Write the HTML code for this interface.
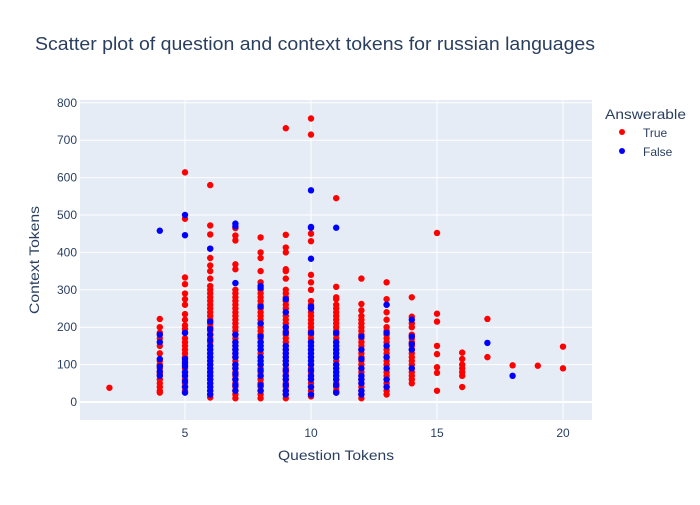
<!DOCTYPE html>
<html><head><meta charset="utf-8"><style>
body{margin:0;background:#fff;font-family:"Liberation Sans",Arial,sans-serif;}
svg text{fill:#2a3f5f;font-family:"Liberation Sans",Arial,sans-serif;}
</style></head><body>
<svg id="chart" width="700" height="500">
<rect x="0" y="0" width="700" height="500" fill="#fff"/>
<text x="35" y="50" font-size="18" textLength="560" lengthAdjust="spacingAndGlyphs">Scatter plot of question and context tokens for russian languages</text>
<rect x="80" y="100" width="512" height="320" fill="#e5ecf6"/>
<g id="grid"></g><g id="ticks"></g><g id="pts"></g>
<text x="336" y="460" font-size="14" text-anchor="middle" textLength="116" lengthAdjust="spacingAndGlyphs">Question Tokens</text>
<text transform="translate(39,260) rotate(-90)" font-size="14" text-anchor="middle" textLength="108" lengthAdjust="spacingAndGlyphs">Context Tokens</text>
<g>
<text x="605" y="119" font-size="14" textLength="81" lengthAdjust="spacingAndGlyphs">Answerable</text>
<g><circle cx="622" cy="132" r="3" fill="#ff0000"/><text x="643" y="137" font-size="12">True</text></g>
<g><circle cx="622" cy="151" r="3" fill="#0000ff"/><text x="643" y="156" font-size="12">False</text></g>
</g>
</svg>
<script>
const xTicks=[5,10,15,20];
const yTicks=[0,100,200,300,400,500,600,700,800];
const trueX=[2,4,5,6,7,8,9,10,11,12,13,14,15,16,17,18,19,20];
const trueY=[[38],
[222,200,185,170,150,130,110,100,90,80,75,60,50,40,30,25],
[614,490,333,315,290,275,260,235,220,205,195,185,170,160,150,140,130,120,110,100,90,80,70,60,50,40,30],
[580,472,448,410,385,365,350,330,310,300,290,280,270,260,250,240,230,220,210,200,190,180,170,160,150,140,130,120,110,100,90,80,70,60,50,40,30,20,12],
[465,445,432,368,355,300,290,280,270,260,250,240,230,220,210,200,190,180,170,160,150,140,130,120,110,100,90,80,70,60,50,40,30,20,10],
[440,400,385,350,320,300,290,280,270,260,250,240,230,220,210,200,190,180,170,160,150,140,130,120,110,100,90,80,70,60,50,40,30,20,10],
[732,447,413,400,355,350,330,300,290,280,270,260,250,240,230,220,210,200,190,180,170,160,150,140,130,120,110,100,90,80,70,60,50,40,30,20,10],
[758,715,450,430,340,320,300,270,260,250,240,230,220,210,200,190,180,170,160,150,140,130,120,110,100,90,80,70,60,50,40,30,20,15],
[545,308,280,275,260,250,240,230,220,210,200,190,180,170,160,150,140,130,120,110,100,90,80,70,60,50,40,30,25],
[330,262,245,230,220,210,200,190,180,170,160,150,140,130,120,110,100,90,80,70,60,50,40,30,20,10],
[320,275,260,240,220,200,190,180,170,160,150,140,130,120,110,100,90,80,70,60,50,40,30,20],
[280,228,210,200,180,170,160,150,140,130,120,110,100,90,80,70,60,50],
[452,236,215,150,128,93,78,30],
[132,115,100,90,80,70,40],
[222,120],[98],[97],[148,90]];
const falseX=[4,5,6,7,8,9,10,11,12,13,14,17,18];
const falseY=[[458,180,160,115,95,82,70],
[500,446,185,115,105,95,80,70,55,40,25],
[410,215,195,180,165,150,140,130,120,110,100,90,80,70,60,50,40,30,20],
[477,470,318,180,160,150,140,130,120,100,90,75,60,45,30],
[310,305,255,210,175,160,150,140,120,110,100,85,70,45,30],
[275,240,200,185,150,140,130,120,110,100,85,70,60,45,30,20],
[566,468,466,383,255,250,185,160,150,140,130,120,110,100,85,70,60,40,20],
[466,185,160,150,140,130,120,100,90,80,70,60,45,25],
[175,140,115,90,70,60,50,30,20],
[260,185,150,120,90,60,40],
[220,175,155,140,90],
[158],[70]];
const NS='http://www.w3.org/2000/svg';
const xs=v=>59+25.2*v;
const ys=v=>402-0.374*v;
const grid=document.getElementById('grid'),ticks=document.getElementById('ticks'),pts=document.getElementById('pts');
function mk(tag,attrs,parent){const e=document.createElementNS(NS,tag);for(const k in attrs)e.setAttribute(k,attrs[k]);parent.appendChild(e);return e;}
xTicks.forEach(t=>{
 const l=mk('line',{x1:xs(t),x2:xs(t),y1:100,y2:420,stroke:'#fff','stroke-width':1},grid);
 
 
 const tx=mk('text',{x:xs(t),y:437,'font-size':12,'text-anchor':'middle'},ticks);tx.textContent=t;
 
 
});
yTicks.forEach(t=>{
 const l=mk('line',{x1:80,x2:592,y1:ys(t),y2:ys(t),stroke:'#fff','stroke-width':t===0?2:1},grid);
 
 
 const tx=mk('text',{x:77,y:ys(t)+4,'font-size':12,'text-anchor':'end'},ticks);tx.textContent=t;
 
 
});
function series(X,Y,color,name){
 X.forEach((x,i)=>Y[i].forEach(y=>{
  const c=mk('circle',{cx:xs(x),cy:ys(y),r:3.2,fill:color},pts);
  
  
 }));
}
series(trueX,trueY,'#ff0000','point-true');
series(falseX,falseY,'#0000ff','point-false');
</script>
</body></html>
